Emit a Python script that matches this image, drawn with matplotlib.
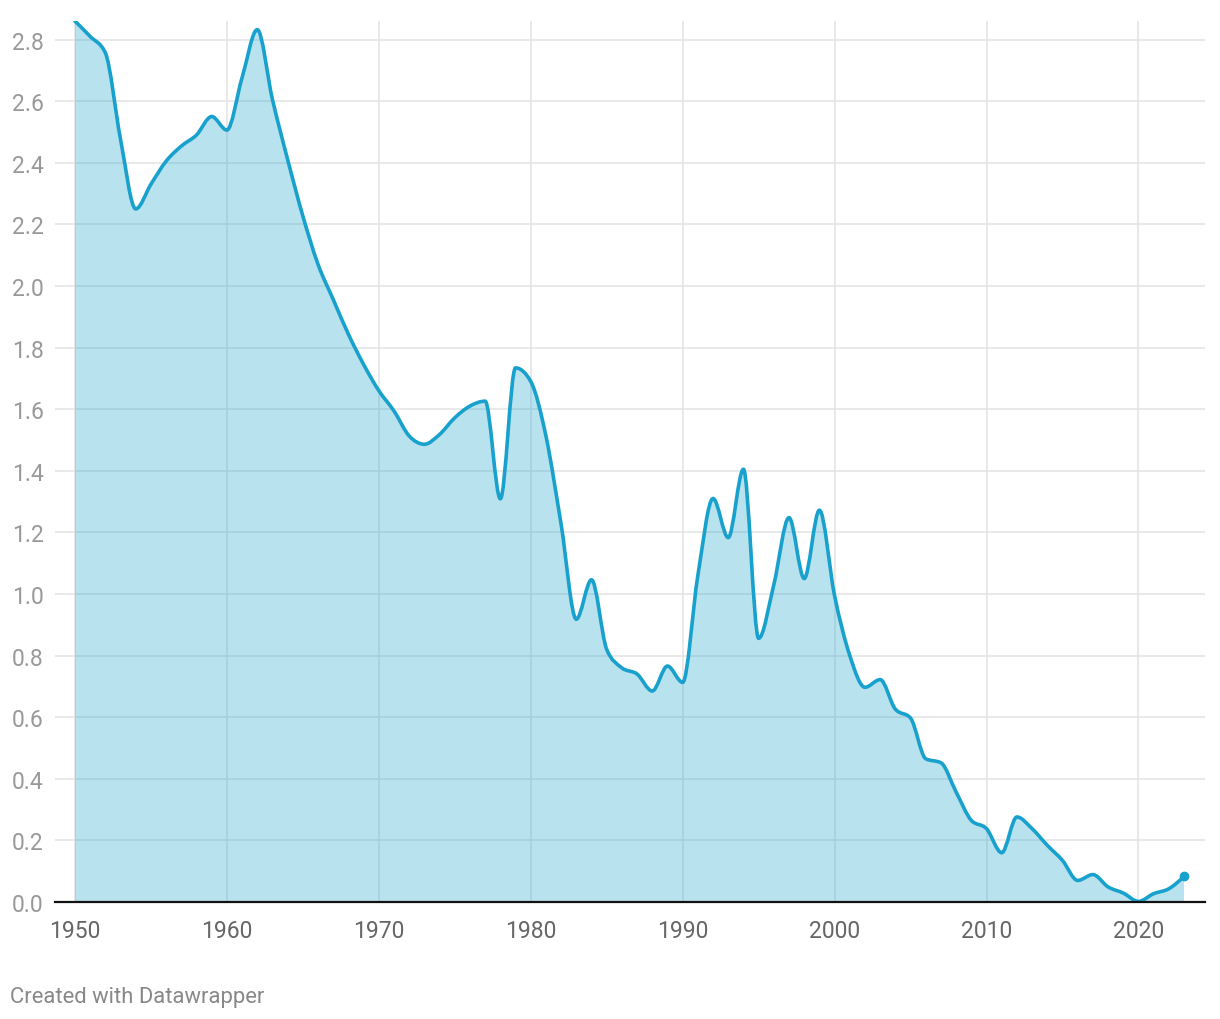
import numpy as np
import matplotlib.pyplot as plt
from matplotlib.path import Path
from matplotlib.patches import PathPatch

plt.rcParams["font.family"] = ["Roboto", "DejaVu Sans"]

years = list(range(1950, 2024))
values = [
    2.86, 2.81, 2.757, 2.476, 2.25, 2.33, 2.405, 2.454, 2.49, 2.55,
    2.506, 2.676, 2.832, 2.605, 2.41, 2.227, 2.07, 1.956, 1.843, 1.745,
    1.66, 1.594, 1.513, 1.486, 1.518, 1.572, 1.61, 1.626, 1.309, 1.734,
    1.69, 1.513, 1.226, 0.918, 1.046, 0.82, 0.76, 0.74, 0.685, 0.766,
    0.713, 1.06, 1.31, 1.183, 1.405, 0.856, 1.03, 1.248, 1.05, 1.272,
    0.994, 0.80, 0.697, 0.722, 0.626, 0.597, 0.465, 0.452, 0.357, 0.265,
    0.238, 0.16, 0.276, 0.238, 0.184, 0.135, 0.07, 0.089, 0.049, 0.029,
    0.002, 0.027, 0.043, 0.083,
]
x_ticks = list(range(1950, 2021, 10))
y_ticks = [i / 10 for i in range(0, 29, 2)]

LINE = "#18a1cd"


def monotone_path(x, y):
    # cubic bezier path like d3.curveMonotoneX
    x = np.asarray(x, float)
    y = np.asarray(y, float)
    n = len(x)
    h = np.diff(x)
    s = np.diff(y) / h
    t = np.zeros(n)
    for i in range(1, n - 1):
        p = (s[i - 1] * h[i] + s[i] * h[i - 1]) / (h[i - 1] + h[i])
        sg = (1 if s[i - 1] >= 0 else -1) + (1 if s[i] >= 0 else -1)
        t[i] = sg * min(abs(s[i - 1]), abs(s[i]), 0.5 * abs(p))
    t[0] = (3 * s[0] - t[1]) / 2
    t[-1] = (3 * s[-1] - t[-2]) / 2
    verts = [(x[0], y[0])]
    codes = [Path.MOVETO]
    for i in range(n - 1):
        dx = h[i] / 3
        verts += [(x[i] + dx, y[i] + dx * t[i]),
                  (x[i + 1] - dx, y[i + 1] - dx * t[i + 1]),
                  (x[i + 1], y[i + 1])]
        codes += [Path.CURVE4] * 3
    return verts, codes


def main():
    fig = plt.figure(figsize=(12.2, 10.2), dpi=100)
    ax = fig.add_axes([0.045, 0.1147, 0.9427, 0.8637])

    verts, codes = monotone_path(years, values)
    fill_verts = verts + [(years[-1], 0), (years[0], 0), (years[0], values[0])]
    fill_codes = codes + [Path.LINETO, Path.LINETO, Path.CLOSEPOLY]
    ax.add_patch(PathPatch(Path(fill_verts, fill_codes), facecolor=LINE,
                           alpha=0.3, edgecolor="none", zorder=2))
    ax.add_patch(PathPatch(Path(verts, codes), facecolor="none",
                           edgecolor=LINE, lw=2.6, zorder=3,
                           capstyle="round", joinstyle="round"))
    ax.plot(years[-1], values[-1], "o", color=LINE, ms=6, zorder=4)

    ax.set_xlim(1948.68, 2024.38)
    ax.set_ylim(0, 2.86)
    ax.set_xticks(x_ticks)
    ax.set_yticks(y_ticks)
    ax.set_yticklabels([f"{v:.1f}" for v in y_ticks])
    ax.grid(True, color="#e3e3e3", lw=1.1, zorder=1)
    ax.set_axisbelow(True)

    for side in ["top", "right", "left"]:
        ax.spines[side].set_visible(False)
    ax.spines["bottom"].set_color("#111111")
    ax.spines["bottom"].set_linewidth(1.6)
    ax.spines["bottom"].set_zorder(5)

    ax.tick_params(axis="x", length=0, pad=12, labelsize=16.5,
                   labelcolor="#666666")
    ax.tick_params(axis="y", length=0, pad=8, labelsize=16.5,
                   labelcolor="#999999")

    fig.text(0.008, 0.0225, "Created with Datawrapper", fontsize=15.8,
             color="#888888", ha="left", va="center")

    fig.savefig("out.png", dpi=100)


if __name__ == "__main__":
    main()
